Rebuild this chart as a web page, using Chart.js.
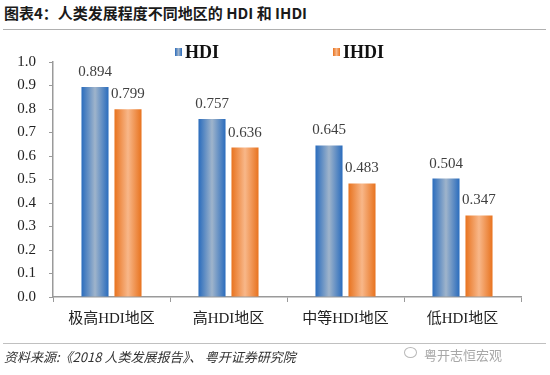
<!DOCTYPE html>
<html>
<head>
<meta charset="utf-8">
<script src="https://cdn.jsdelivr.net/npm/chart.js@4"></script>
<style>
  html, body { margin: 0; padding: 0; background: #fff; }
  body { width: 550px; height: 375px; position: relative; overflow: hidden; }
  #title { position: absolute; left: 4px; top: 2px; font: bold 15px "Noto Sans CJK SC", sans-serif; color: #1a1a1a; }
  #topline { position: absolute; left: 3px; right: 4px; top: 29px; border-top: 1px solid #b0b0b0; }
  #botline { position: absolute; left: 3px; right: 4px; top: 343px; border-top: 1px solid #c0c0c0; }
  #source { position: absolute; left: 4px; top: 347px; font: italic 13px "Noto Sans CJK SC", sans-serif; color: #333; }
  #mark { position: absolute; left: 424px; top: 345px; font: 13px "Noto Sans CJK SC", sans-serif; color: #a8a8a8; }
  #icon { position: absolute; left: 404px; top: 347px; width: 11px; height: 9px; border: 1px solid #b8b8b8; border-radius: 50%; }
  #chartBox { position: absolute; left: 0; top: 0; width: 550px; height: 375px; }
</style>
</head>
<body>
<div id="title">图表4：人类发展程度不同地区的 HDI 和 IHDI</div>
<div id="topline"></div>
<div id="chartBox"><canvas id="c" width="550" height="375"></canvas></div>
<div id="botline"></div>
<div id="source">资料来源:《2018 人类发展报告》、 粤开证券研究院</div>
<div id="icon"></div>
<div id="mark">粤开志恒宏观</div>
<script>
const categories = ['极高HDI地区', '高HDI地区', '中等HDI地区', '低HDI地区'];
const hdi = [0.894, 0.757, 0.645, 0.504];
const ihdi = [0.799, 0.636, 0.483, 0.347];
const yTicks = [0, 0.1, 0.2, 0.3, 0.4, 0.5, 0.6, 0.7, 0.8, 0.9, 1.0];

const blueStops = ['#2a6cbd', '#9fb4cb', '#2a6cbd'];
const orangeStops = ['#e8731f', '#f8b789', '#e8731f'];
const serif = '"Liberation Serif", "Times New Roman", "Noto Sans CJK SC", serif';

function grad(ctx, x0, x1, stops) {
  const g = ctx.createLinearGradient(x0, 0, x1, 0);
  g.addColorStop(0, stops[0]);
  g.addColorStop(0.5, stops[1]);
  g.addColorStop(1, stops[2]);
  return g;
}

// bar gradients + value labels + legend
const decor = {
  id: 'decor',
  beforeDatasetsDraw(chart) {
    const ctx = chart.ctx;
    chart.data.datasets.forEach((ds, i) => {
      chart.getDatasetMeta(i).data.forEach(bar => {
        const x0 = bar.x - bar.width / 2, x1 = bar.x + bar.width / 2;
        // options object is shared between bars, so give each its own copy
        bar.options = Object.assign({}, bar.options, { backgroundColor: grad(ctx, x0, x1, ds.stops) });
      });
    });
  },
  afterDatasetsDraw(chart) {
    const ctx = chart.ctx;
    ctx.save();
    ctx.font = '15px ' + serif;
    ctx.fillStyle = '#404040';
    ctx.textAlign = 'center';
    ctx.textBaseline = 'alphabetic';
    chart.data.datasets.forEach((ds, i) => {
      chart.getDatasetMeta(i).data.forEach((bar, j) => {
        ctx.fillText(ds.data[j].toFixed(3), bar.x, bar.y - 11);
      });
    });
    // legend
    const area = chart.chartArea;
    const pos = [area.left + 122, area.left + 280];
    ctx.font = 'bold 18px ' + serif;
    ctx.textAlign = 'left';
    ctx.textBaseline = 'middle';
    chart.data.datasets.forEach((ds, i) => {
      const x = pos[i], y = 52;
      ctx.fillStyle = grad(ctx, x, x + 7, ds.stops);
      ctx.fillRect(x, y - 4, 7, 8);
      ctx.fillStyle = '#111';
      ctx.fillText(ds.label, x + 10, y + 1);
    });
    ctx.restore();
  }
};

new Chart(document.getElementById('c'), {
  type: 'bar',
  data: {
    labels: categories,
    datasets: [
      { label: 'HDI', data: hdi, stops: blueStops, backgroundColor: blueStops[0],
        categoryPercentage: 0.564, barPercentage: 0.82 },
      { label: 'IHDI', data: ihdi, stops: orangeStops, backgroundColor: orangeStops[0],
        categoryPercentage: 0.564, barPercentage: 0.82 }
    ]
  },
  options: {
    responsive: false,
    animation: false,
    layout: { padding: { top: 62, right: 29, bottom: 0, left: 0 } },
    plugins: { legend: { display: false }, tooltip: { enabled: false } },
    scales: {
      x: {
        afterFit: s => { s.height = 78; },
        grid: { offset: true, drawOnChartArea: false, tickLength: 5, color: '#9a9a9a' },
        border: { color: '#9a9a9a', width: 1.5 },
        ticks: { font: { size: 15, family: serif }, color: '#222', padding: 8 }
      },
      y: {
        min: 0, max: 1,
        afterFit: s => { s.width = 53; },
        afterBuildTicks: s => { s.ticks = yTicks.map(v => ({ value: v })); },
        grid: { drawOnChartArea: false, tickLength: 4, color: '#9a9a9a' },
        border: { color: '#9a9a9a', width: 1.5 },
        ticks: { font: { size: 15, family: serif }, color: '#222', padding: 13,
          callback: v => v.toFixed(1) }
      }
    }
  },
  plugins: [decor]
});
</script>
</body>
</html>
